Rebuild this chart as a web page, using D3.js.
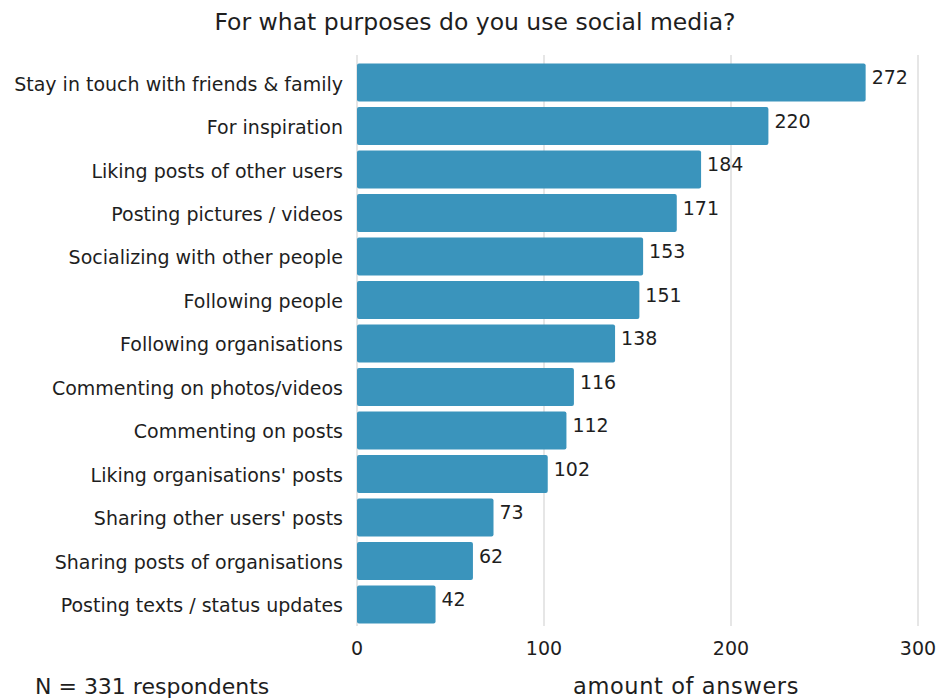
<!DOCTYPE html>
<html>
<head>
<meta charset="utf-8">
<script src="https://cdn.jsdelivr.net/npm/d3@7"></script>
<style>
  body { margin: 0; background: #fff; }
  svg text { font-family: "DejaVu Sans", sans-serif; fill: #1e1e1e; }
</style>
</head>
<body>
<svg id="chart" width="939" height="700"></svg>
<script>
var categories = [
  "Stay in touch with friends & family",
  "For inspiration",
  "Liking posts of other users",
  "Posting pictures / videos",
  "Socializing with other people",
  "Following people",
  "Following organisations",
  "Commenting on photos/videos",
  "Commenting on posts",
  "Liking organisations' posts",
  "Sharing other users' posts",
  "Sharing posts of organisations",
  "Posting texts / status updates"
];
var answers = [272, 220, 184, 171, 153, 151, 138, 116, 112, 102, 73, 62, 42];
var ticks = [0, 100, 200, 300];

var svg = d3.select("#chart"),
    plotLeft = 357, plotRight = 918, plotTop = 61, plotBottom = 626;

var x = d3.scaleLinear().domain([0, 300]).range([plotLeft, plotRight]);
var y = d3.scaleBand().domain(categories).range([plotTop, plotBottom]).paddingInner(0.13).paddingOuter(0.06);

// title
svg.append("text")
    .attr("x", 475).attr("y", 30)
    .attr("text-anchor", "middle")
    .style("font-size", "23.5px")
    .text("For what purposes do you use social media?");

// grid
svg.selectAll("line.grid")
    .data(ticks)
  .enter().append("line")
    .attr("class", "grid")
    .attr("x1", x).attr("x2", x)
    .attr("y1", plotTop - 6).attr("y2", plotBottom)
    .style("stroke", "#dedede").style("stroke-width", 1.5);

// bars
svg.selectAll("rect.bar")
    .data(categories)
  .enter().append("rect")
    .attr("class", "bar")
    .attr("x", x(0))
    .attr("y", function(d) { return y(d); })
    .attr("width", function(d, i) { return x(answers[i]) - x(0); })
    .attr("height", y.bandwidth())
    .attr("rx", 2)
    .style("fill", "#3a94bc");

// values
svg.selectAll("text.val")
    .data(categories)
  .enter().append("text")
    .attr("class", "val")
    .attr("x", function(d, i) { return x(answers[i]) + 6; })
    .attr("y", function(d) { return y(d) + y.bandwidth() / 2; })
    .attr("dy", "0.1em")
    .style("font-size", "19px")
    .text(function(d, i) { return answers[i]; });

// category labels
svg.selectAll("text.cat")
    .data(categories)
  .enter().append("text")
    .attr("class", "cat")
    .attr("x", 343)
    .attr("y", function(d) { return y(d) + y.bandwidth() / 2; })
    .attr("dy", "0.42em")
    .attr("text-anchor", "end")
    .style("font-size", "19px")
    .text(function(d) { return d; });

// x axis labels
svg.selectAll("text.tick")
    .data(ticks)
  .enter().append("text")
    .attr("class", "tick")
    .attr("x", x)
    .attr("y", 655)
    .attr("text-anchor", "middle")
    .style("font-size", "19px")
    .text(function(d) { return d; });

svg.append("text")
    .attr("x", 686).attr("y", 694)
    .attr("text-anchor", "middle")
    .style("font-size", "22.5px")
    .style("letter-spacing", "0.6px")
    .text("amount of answers");

svg.append("text")
    .attr("x", 35).attr("y", 694)
    .style("font-size", "22px")
    .text("N = 331 respondents");
</script>
</body>
</html>
